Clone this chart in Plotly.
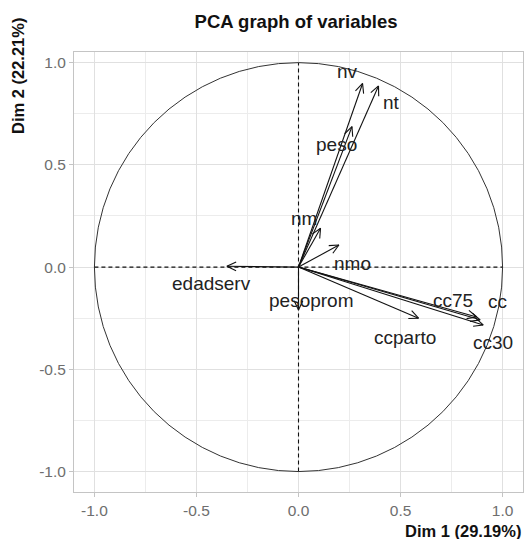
import numpy as np
import plotly.graph_objects as go

# variable coordinates on the first two dimensions
variables = ["nv", "nt", "peso", "nm", "nmo", "edadserv", "pesoprom",
             "ccparto", "cc75", "cc", "cc30"]
dim1 = [0.314, 0.392, 0.262, 0.108, 0.198, -0.351, 0.0,
        0.588, 0.873, 0.890, 0.905]
dim2 = [0.898, 0.886, 0.687, 0.190, 0.108, 0.004, -0.210,
        -0.250, -0.244, -0.258, -0.283]

dim1_pct = 29.19
dim2_pct = 22.21

tick_vals = [-1.0, -0.5, 0.0, 0.5, 1.0]
tick_text = ["-1.0", "-0.5", "0.0", "0.5", "1.0"]

# label offsets in pixels from each arrow tip (layout only)
label_shift = {
    "nv": (-15, 12), "nt": (13, -17), "peso": (-15, -18), "nm": (-17, 10),
    "nmo": (14, -18), "edadserv": (-15, -17), "pesoprom": (13, 10),
    "ccparto": (-14, -19), "cc75": (-24, 16), "cc": (17, 18), "cc30": (10, -18),
}

FONT = "Liberation Sans, Arial, sans-serif"
head_len = 0.05
head_ang = np.deg2rad(25)

# shafts and open arrow heads
xs, ys = [], []
for x, y in zip(dim1, dim2):
    xs += [0, x, None]
    ys += [0, y, None]
    th = np.arctan2(y, x)
    for s in (1, -1):
        xs += [x, x - head_len * np.cos(th + s * head_ang), None]
        ys += [y, y - head_len * np.sin(th + s * head_ang), None]

fig = go.Figure()
fig.add_trace(go.Scatter(x=xs, y=ys, mode="lines",
                         line=dict(color="#111111", width=1.1),
                         hoverinfo="skip", showlegend=False))

# correlation circle and dashed axes
fig.add_shape(type="circle", x0=-1, y0=-1, x1=1, y1=1,
              line=dict(color="#333333", width=1))
fig.add_shape(type="line", x0=-1, y0=0, x1=1, y1=0,
              line=dict(color="#111111", width=1.1, dash="4px,3px"))
fig.add_shape(type="line", x0=0, y0=-1, x1=0, y1=1,
              line=dict(color="#111111", width=1.1, dash="4px,3px"))

for name, x, y in zip(variables, dim1, dim2):
    dx, dy = label_shift[name]
    fig.add_annotation(x=x, y=y, text=name, showarrow=False,
                       xshift=dx, yshift=dy,
                       font=dict(family=FONT, size=19, color="#222222"))

# axis titles
fig.add_annotation(xref="paper", yref="paper", x=1, y=0, xanchor="right",
                   yanchor="middle", yshift=-39, showarrow=False,
                   text=f"<b>Dim 1 ({dim1_pct:.2f}%)</b>",
                   font=dict(family=FONT, size=16.5, color="#111111"))
fig.add_annotation(xref="paper", yref="paper", x=0, y=1, xanchor="center",
                   yanchor="middle", xshift=-56, yshift=-24, textangle=-90,
                   showarrow=False,
                   text=f"<b>Dim 2 ({dim2_pct:.2f}%)</b>",
                   font=dict(family=FONT, size=16.5, color="#111111"))

axis_common = dict(
    showgrid=True, gridcolor="#E0E0E0", gridwidth=1,
    minor=dict(showgrid=True, gridcolor="#ECECEC", gridwidth=1,
               tickmode="linear", tick0=0, dtick=0.25),
    zeroline=False, showline=True, mirror=True, linecolor="#C4C4C4",
    linewidth=1, ticks="outside", ticklen=4, tickcolor="#C4C4C4",
    tickmode="array", tickvals=tick_vals, ticktext=tick_text,
    automargin=False,
    tickfont=dict(family=FONT, size=15.5, color="#6E6E6E"),
)

fig.update_layout(
    width=524, height=539,
    margin=dict(l=74, r=1, t=52, b=47, autoexpand=False),
    paper_bgcolor="white", plot_bgcolor="white",
    title=dict(text="<b>PCA graph of variables</b>", xref="container",
               x=0.565, xanchor="center", y=1 - 22 / 539, yanchor="middle",
               font=dict(family=FONT, size=18.5, color="#111111")),
    xaxis=dict(range=[-1.1, 1.1], **axis_common),
    yaxis=dict(range=[-1.1, 1.052], **axis_common),
)

fig.write_html("out.html", config={"displayModeBar": False},
               post_script="document.body.style.margin='0';"
                           "document.body.style.overflow='hidden';")
